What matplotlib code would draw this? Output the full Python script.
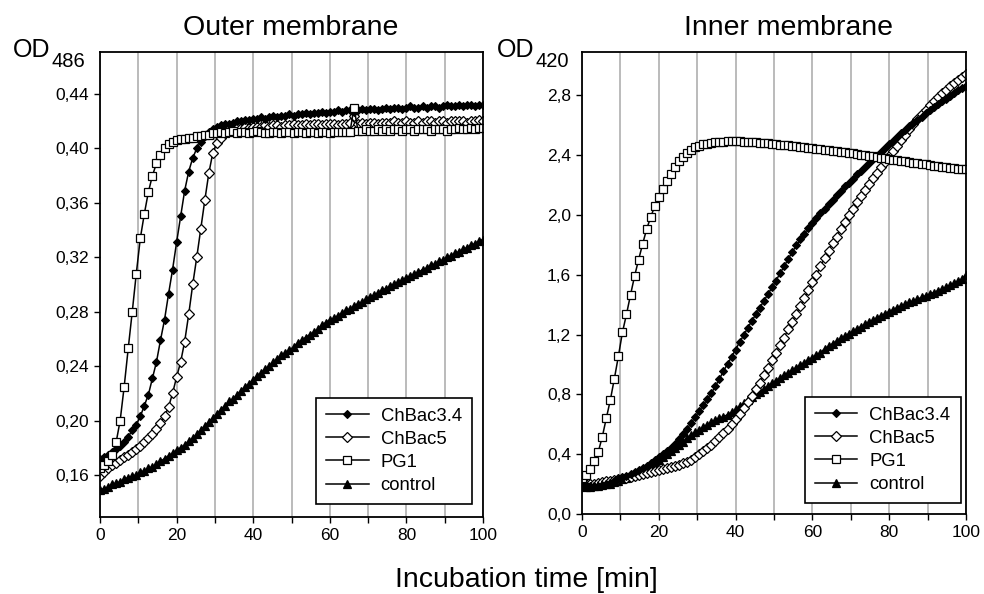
import numpy as np
import matplotlib
matplotlib.use("Agg")
import matplotlib.pyplot as plt

plt.rcParams['font.family'] = ['Liberation Sans', 'DejaVu Sans']

# ---------------- data ----------------
series_names = ["ChBac3.4", "ChBac5", "PG1", "control"]

# Outer membrane (OD486)
outer_chbac34 = [0.172,0.173,0.175,0.177,0.179,0.181,0.184,0.188,0.193,0.197,
                 0.203,0.211,0.219,0.231,0.243,0.259,0.274,0.293,0.311,0.331,
                 0.350,0.369,0.383,0.393,0.400,0.405,0.409,0.412,0.414,0.416,
                 0.417,0.418,0.418,0.419,0.420,0.420,0.421,0.421,0.422,0.422,
                 0.423,0.422,0.423,0.424,0.423,0.424,0.424,0.425,0.424,0.425,
                 0.425,0.426,0.425,0.426,0.426,0.427,0.426,0.427,0.427,0.428,
                 0.427,0.428,0.428,0.427,0.428,0.429,0.428,0.429,0.429,0.428,
                 0.429,0.430,0.429,0.430,0.430,0.429,0.430,0.431,0.430,0.430,
                 0.431,0.430,0.431,0.431,0.430,0.431,0.432,0.431,0.431,0.432,
                 0.431,0.432,0.432,0.431,0.432,0.432]
outer_chbac5 = [0.159,0.162,0.165,0.167,0.169,0.171,0.173,0.175,0.177,0.179,
                0.181,0.184,0.187,0.190,0.194,0.198,0.203,0.210,0.220,0.232,
                0.243,0.258,0.278,0.300,0.320,0.341,0.362,0.382,0.397,0.404,
                0.408,0.411,0.413,0.414,0.415,0.415,0.416,0.415,0.416,0.416,
                0.416,0.417,0.416,0.417,0.417,0.416,0.417,0.417,0.418,0.417,
                0.417,0.418,0.417,0.418,0.418,0.417,0.418,0.418,0.418,0.417,
                0.418,0.418,0.419,0.424,0.418,0.419,0.418,0.419,0.419,0.418,
                0.419,0.419,0.419,0.420,0.419,0.419,0.420,0.419,0.419,0.420,
                0.419,0.420,0.420,0.419,0.420,0.420,0.419,0.420,0.420,0.420,
                0.420,0.419,0.420,0.420,0.421,0.420]
outer_pg1 = [0.165,0.167,0.170,0.175,0.184,0.200,0.225,0.253,0.280,0.308,
             0.334,0.352,0.368,0.380,0.389,0.395,0.400,0.403,0.405,0.406,
             0.407,0.407,0.408,0.408,0.409,0.409,0.410,0.410,0.411,0.411,
             0.412,0.411,0.412,0.413,0.411,0.412,0.412,0.411,0.412,0.413,
             0.412,0.411,0.411,0.412,0.412,0.411,0.412,0.412,0.411,0.412,
             0.412,0.411,0.412,0.412,0.411,0.412,0.412,0.411,0.412,0.412,
             0.412,0.412,0.412,0.430,0.413,0.413,0.414,0.413,0.413,0.414,
             0.413,0.414,0.413,0.414,0.414,0.413,0.414,0.414,0.413,0.414,
             0.414,0.414,0.413,0.414,0.414,0.414,0.413,0.414,0.414,0.415,
             0.414,0.414,0.415,0.414,0.415,0.415]
outer_control = [0.149,0.150,0.151,0.153,0.154,0.155,0.157,0.158,0.159,0.160,
                 0.162,0.163,0.165,0.166,0.168,0.170,0.172,0.174,0.176,0.178,
                 0.180,0.182,0.185,0.187,0.190,0.193,0.196,0.199,0.202,0.205,
                 0.208,0.211,0.214,0.216,0.219,0.222,0.225,0.227,0.230,0.233,
                 0.235,0.238,0.240,0.243,0.245,0.248,0.250,0.252,0.254,0.257,
                 0.259,0.261,0.263,0.265,0.267,0.270,0.272,0.274,0.275,0.277,
                 0.279,0.281,0.282,0.284,0.286,0.287,0.289,0.291,0.292,0.294,
                 0.296,0.297,0.299,0.300,0.302,0.303,0.305,0.306,0.308,0.309,
                 0.311,0.312,0.314,0.315,0.317,0.318,0.320,0.321,0.323,0.324,
                 0.326,0.327,0.329,0.330,0.332,0.333]

# Inner membrane (OD420)
inner_chbac34 = [0.200,0.195,0.190,0.190,0.190,0.195,0.200,0.210,0.220,0.235,
                 0.245,0.255,0.270,0.280,0.295,0.310,0.325,0.340,0.360,0.380,
                 0.400,0.420,0.445,0.470,0.500,0.535,0.570,0.610,0.650,0.690,
                 0.730,0.770,0.810,0.855,0.905,0.955,1.005,1.050,1.100,1.150,
                 1.195,1.245,1.290,1.335,1.380,1.425,1.470,1.515,1.560,1.610,
                 1.655,1.705,1.750,1.795,1.835,1.875,1.910,1.945,1.980,2.010,
                 2.040,2.070,2.100,2.130,2.160,2.190,2.215,2.240,2.270,2.295,
                 2.320,2.345,2.370,2.395,2.420,2.445,2.470,2.495,2.520,2.545,
                 2.565,2.590,2.610,2.635,2.655,2.680,2.700,2.720,2.740,2.760,
                 2.775,2.795,2.810,2.830,2.845,2.860]
inner_chbac5 = [0.200,0.200,0.200,0.205,0.210,0.215,0.220,0.225,0.230,0.235,
                0.240,0.245,0.250,0.258,0.265,0.270,0.278,0.285,0.290,0.297,
                0.303,0.310,0.316,0.322,0.330,0.340,0.350,0.365,0.380,0.400,
                0.420,0.440,0.465,0.490,0.515,0.540,0.570,0.600,0.635,0.670,
                0.710,0.750,0.790,0.835,0.880,0.930,0.980,1.030,1.080,1.130,
                1.180,1.235,1.285,1.340,1.390,1.445,1.495,1.550,1.600,1.655,
                1.710,1.760,1.810,1.855,1.905,1.950,2.000,2.040,2.085,2.125,
                2.165,2.205,2.245,2.280,2.320,2.355,2.390,2.425,2.460,2.500,
                2.535,2.570,2.605,2.640,2.670,2.700,2.730,2.760,2.785,2.810,
                2.835,2.860,2.880,2.900,2.920,2.940]
inner_pg1 = [0.245,0.262,0.300,0.358,0.415,0.515,0.640,0.762,0.905,1.055,
             1.215,1.335,1.465,1.590,1.700,1.805,1.905,1.985,2.058,2.118,
             2.175,2.226,2.274,2.316,2.356,2.386,2.413,2.434,2.450,2.461,
             2.470,2.476,2.480,2.484,2.487,2.489,2.490,2.491,2.490,2.490,
             2.489,2.487,2.486,2.484,2.482,2.479,2.477,2.474,2.472,2.469,
             2.466,2.463,2.460,2.457,2.454,2.451,2.448,2.445,2.441,2.438,
             2.434,2.431,2.428,2.424,2.421,2.417,2.413,2.410,2.406,2.402,
             2.398,2.394,2.390,2.386,2.382,2.377,2.372,2.368,2.364,2.360,
             2.357,2.353,2.349,2.345,2.341,2.337,2.333,2.329,2.326,2.322,
             2.318,2.314,2.310,2.307,2.305,2.303]
inner_control = [0.190,0.185,0.185,0.190,0.190,0.195,0.200,0.205,0.215,0.225,
                 0.235,0.245,0.255,0.265,0.280,0.290,0.305,0.320,0.340,0.360,
                 0.380,0.400,0.420,0.440,0.462,0.485,0.507,0.527,0.547,0.565,
                 0.582,0.598,0.613,0.627,0.640,0.652,0.665,0.680,0.700,0.720,
                 0.740,0.760,0.780,0.800,0.818,0.837,0.856,0.875,0.893,0.910,
                 0.928,0.946,0.963,0.980,0.997,1.013,1.030,1.047,1.063,1.080,
                 1.105,1.122,1.140,1.157,1.174,1.190,1.206,1.222,1.238,1.253,
                 1.268,1.283,1.298,1.312,1.326,1.340,1.354,1.367,1.380,1.392,
                 1.404,1.415,1.426,1.437,1.448,1.459,1.470,1.481,1.492,1.503,
                 1.515,1.528,1.542,1.556,1.572,1.600]

time_min = np.linspace(0, 100, len(outer_pg1))

outer_yticks = [0.16, 0.20, 0.24, 0.28, 0.32, 0.36, 0.40, 0.44]
inner_yticks = [0.0, 0.4, 0.8, 1.2, 1.6, 2.0, 2.4, 2.8]
x_ticks = list(range(0, 101, 10))

# ---------------- styling ----------------
styles = {
    "ChBac3.4": dict(marker='D', ms=4.5, mfc='black', mec='black', mew=0.8),
    "ChBac5":   dict(marker='D', ms=5.5, mfc='white', mec='black', mew=0.9),
    "PG1":      dict(marker='s', ms=5.5, mfc='white', mec='black', mew=0.9),
    "control":  dict(marker='^', ms=5.8, mfc='black', mec='black', mew=0.9),
}

W, H = 984, 594
fig = plt.figure(figsize=(W / 100, H / 100), dpi=100)
ax1 = fig.add_axes([100 / W, 1 - 516.7 / H, 383 / W, 464.7 / H])
ax2 = fig.add_axes([582 / W, 1 - 514.3 / H, 384 / W, 462.6 / H])


def draw(ax, data, yticks, ylim, fmt, leg_anchor):
    for name in ["control", "ChBac5", "ChBac3.4", "PG1"]:
        ax.plot(time_min, data[name], color='black', lw=1.1, label=name,
                **styles[name])
    ax.set_xlim(0, 100)
    ax.set_ylim(*ylim)
    ax.set_xticks(x_ticks)
    ax.set_xticklabels([str(v) if v % 20 == 0 else '' for v in x_ticks])
    ax.set_yticks(yticks)
    ax.set_yticklabels([fmt(v) for v in yticks])
    ax.tick_params(direction='out', length=4, width=1, labelsize=12.5,
                   colors='black', pad=4)
    ax.set_axisbelow(True)
    ax.xaxis.grid(True, color='#b5b5b5', lw=1.3)
    for sp in ax.spines.values():
        sp.set_linewidth(1.3)
        sp.set_color('black')
    handles, labels = ax.get_legend_handles_labels()
    order = [labels.index(n) for n in series_names]
    leg = ax.legend([handles[i] for i in order], [labels[i] for i in order],
                    loc='lower right', bbox_to_anchor=leg_anchor,
                    borderaxespad=0, fontsize=13.3, frameon=True,
                    fancybox=False, framealpha=1, edgecolor='black',
                    borderpad=0.55, handlelength=2.3, handletextpad=0.65,
                    labelspacing=0.33)
    leg.get_frame().set_linewidth(1.2)


outer = dict(zip(series_names, [outer_chbac34, outer_chbac5, outer_pg1, outer_control]))
inner = dict(zip(series_names, [inner_chbac34, inner_chbac5, inner_pg1, inner_control]))

draw(ax1, outer, outer_yticks, (0.1293, 0.4709),
     lambda v: f"{v:.2f}".replace('.', ','), (0.971, 0.027))
draw(ax2, inner, inner_yticks, (0.0, 3.089),
     lambda v: f"{v:.1f}".replace('.', ','), (0.986, 0.024))

# titles and axis labels
fig.text(291 / W, 1 - 35 / H, "Outer membrane", ha='center', va='baseline', fontsize=20.5)
fig.text(789 / W, 1 - 35 / H, "Inner membrane", ha='center', va='baseline', fontsize=20.5)
fig.text(13 / W, 1 - 56.7 / H, "OD", ha='left', va='baseline', fontsize=18)
fig.text(52 / W, 1 - 66.7 / H, "486", ha='left', va='baseline', fontsize=14.5)
fig.text(497 / W, 1 - 56.7 / H, "OD", ha='left', va='baseline', fontsize=18)
fig.text(536 / W, 1 - 66.7 / H, "420", ha='left', va='baseline', fontsize=14.5)
fig.text(526 / W, 1 - 586.7 / H, "Incubation time [min]", ha='center', va='baseline',
         fontsize=20.5)

fig.savefig("out.png", dpi=100, facecolor='white')
